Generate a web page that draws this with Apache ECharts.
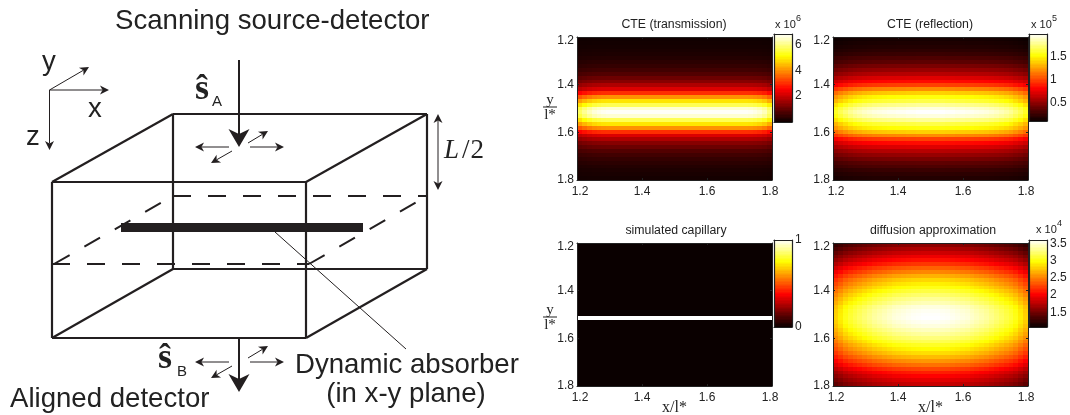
<!DOCTYPE html>
<html><head><meta charset="utf-8">
<style>html,body{margin:0;padding:0;background:#fff}#c{width:1070px;height:415px}</style>
<script src="https://cdn.jsdelivr.net/npm/echarts@6/dist/echarts.min.js"></script>
</head><body><div id="c"></div>
<script>
// ---- values: centre-column value per row, and edge falloff per column
const transRows = [0.08,0.10,0.13,0.17,0.21,0.28,0.37,0.48,0.62,0.82,1.08,1.35,1.75,2.2,3.0,4.0,4.85,5.65,6.5,6.75,6.5,5.65,4.85,4.0,3.0,2.2,1.75,1.35,1.08,0.82,0.62,0.48,0.37,0.28,0.21,0.17,0.13];
const transCols = [.85,.90,.94,.97,.985,.995,1,1,1,1,1,1,1,1,1,1,1,1,1,1,1,1,1,1,1,1,1,1,1,1,1,1,1,1,1,.995,.985,.97,.94,.88];
const reflRows = [0.15,0.17,0.19,0.22,0.26,0.32,0.37,0.45,0.53,0.62,0.73,0.85,1.0,1.21,1.40,1.55,1.66,1.81,1.94,2.0,1.94,1.81,1.66,1.55,1.40,1.21,1.0,0.85,0.73,0.62,0.53,0.45,0.37,0.32,0.26,0.22,0.19];
const reflCols = [.80,.84,.87,.90,.92,.935,.95,.96,.97,.975,.98,.985,.985,.99,.99,.995,.995,1,1,1,1,1,1,.995,.995,.99,.99,.985,.985,.98,.975,.97,.96,.95,.935,.92,.90,.87,.84,.80];
const capRows = [0,0,0,0,0,0,0,0,0,0,0,0,0,0,0,0,0,0,0,1,0,0,0,0,0,0,0,0,0,0,0,0,0,0,0,0,0];
const capCols = [1,1,1,1,1,1,1,1,1,1,1,1,1,1,1,1,1,1,1,1,1,1,1,1,1,1,1,1,1,1,1,1,1,1,1,1,1,1,1,1];
const diffRows = [1.6,1.72,1.84,1.96,2.08,2.22,2.38,2.52,2.68,2.82,2.92,3.02,3.13,3.24,3.34,3.42,3.52,3.57,3.59,3.6,3.57,3.52,3.44,3.36,3.27,3.17,3.06,2.96,2.85,2.72,2.58,2.44,2.28,2.13,2.02,1.92,1.82];
const diffCols = [.78,.81,.84,.86,.875,.89,.905,.92,.935,.945,.955,.965,.975,.98,.985,.99,.995,.997,1,1,1,1,.997,.995,.99,.985,.98,.975,.965,.955,.945,.935,.92,.905,.89,.875,.86,.84,.81,.78];
const tickLabels = [1.2,1.4,1.6,1.8];
const hot = ['#0a0000','#550000','#aa0000','#ff0000','#ff5500','#ffaa00','#ffff00','#ffff80','#ffffff'];
const titles = ['CTE (transmission)','CTE (reflection)','simulated capillary','diffusion approximation'];
const barRanges = [[0,6.8],[0.11,2.0],[0,1],[1.07,3.6]];
const barTicks = [[2,4,6],[0.5,1,1.5],[0,1],[1.5,2,2.5,3,3.5]];
const barExp = ['6','5','','4'];

const INK = '#231f20', SANS = '"Liberation Sans", Arial, sans-serif', SERIF = '"Liberation Serif", serif';
const panels = [
 {rows:transRows, cols:transCols, x:577, y:37, bx:774, by:34, bh:88, tx:674, ty:24, ex:775, ey:25},
 {rows:reflRows,  cols:reflCols,  x:833, y:37, bx:1029,by:34, bh:87, tx:930, ty:24, ex:1031,ey:25},
 {rows:capRows,   cols:capCols,   x:577, y:243,bx:774, by:240,bh:87, tx:676, ty:230},
 {rows:diffRows,  cols:diffCols,  x:833, y:243,bx:1029,by:240,bh:87, tx:933, ty:230, ex:1036,ey:230}
];
const grid=[],xAxis=[],yAxis=[],series=[],visualMap=[],graphic=[];
function renderCell(p,api){
  const c=api.coord([api.value(0),api.value(1)]), s=api.size([api.value(3),api.value(4)]);
  const e=.013;
  const x0=Math.round(c[0]-s[0]/2+e),x1=Math.round(c[0]+s[0]/2+e),y0=Math.round(c[1]-s[1]/2+e),y1=Math.round(c[1]+s[1]/2+e);
  return {type:'rect',shape:{x:x0,y:y0,width:x1-x0,height:y1-y0},style:{fill:api.visual('color')}};
}
const lineS={onZero:false,lineStyle:{color:'#222',width:1}};
const fmtX=v=>{const s=v.toFixed(1);return s==='1.2'?'{a|'+s+'}':s==='1.8'?'{b|'+s+'}':'{c|'+s+'}';};
const fmtY=v=>{const s=v.toFixed(1);return s==='1.2'?'{d|'+s+'}':'{c|'+s+'}';};
const richT={color:'#222',fontFamily:SANS,fontSize:12};
const rich={a:{...richT,padding:[0,0,0,6]},b:{...richT,padding:[0,4,0,0]},c:richT,d:{...richT,padding:[8,0,0,0]}};
panels.forEach((p,k)=>{
  const g=grid.length;
  grid.push({left:p.x,top:p.y,width:195,height:143,outerBoundsMode:'none'});
  const ticks={show:true,inside:true,length:2,lineStyle:{color:'#222'},customValues:tickLabels};
  const lab={color:'#222',fontFamily:SANS,fontSize:12,customValues:tickLabels,rich};
  const ax={type:'value',min:1.2,max:1.8,gridIndex:g,z:5,splitLine:{show:false},axisLine:{show:true,...lineS},axisTick:ticks};
  const xi=xAxis.length, yi=yAxis.length;
  xAxis.push({...ax,position:'bottom',axisLabel:{...lab,margin:6,formatter:fmtX},
     ...(k>=2?{name:'x/l*',nameLocation:'middle',nameGap:14,nameMoveOverlap:false,nameTextStyle:{fontFamily:SERIF,fontSize:16,color:'#222'}}:{})});
  xAxis.push({...ax,position:'top',axisLabel:{show:false}});
  yAxis.push({...ax,inverse:true,position:'left',axisLabel:{...lab,margin:3,formatter:fmtY}});
  yAxis.push({...ax,inverse:true,position:'right',axisLabel:{show:false}});
  const data=[], dx=.6/p.cols.length, dy=.6/p.rows.length;
  p.rows.forEach((r,i)=>p.cols.forEach((c,j)=>data.push([1.2+(j+.5)*dx,1.2+(i+.5)*dy,r*c,dx,dy])));
  const si=series.length;
  series.push({type:'custom',xAxisIndex:xi,yAxisIndex:yi,data,renderItem:renderCell,encode:{x:0,y:1},silent:true,clip:true,animation:false});
  // colour bar
  const g2=grid.length, [lo,hi]=barRanges[k];
  grid.push({left:p.bx,top:p.by,width:18,height:p.bh,outerBoundsMode:'none'});
  const bl={show:true,onZero:false,lineStyle:{color:'#222',width:1.2}};
  const bx={type:'value',gridIndex:g2,min:0,max:1,z:5,splitLine:{show:false},axisTick:{show:false},axisLabel:{show:false},axisLine:bl};
  const by={type:'value',gridIndex:g2,min:lo,max:hi,z:5,splitLine:{show:false},axisTick:{show:false},axisLine:bl};
  const xi2=xAxis.length, yi2=yAxis.length;
  xAxis.push({...bx,position:'bottom'},{...bx,position:'top'});
  yAxis.push({...by,position:'right',axisLabel:{color:'#222',fontFamily:SANS,fontSize:12,margin:3,customValues:barTicks[k],formatter:v=>String(v)}},
             {...by,position:'left',axisLabel:{show:false}});
  const levels=[], n=64, step=(hi-lo)/n;
  for(let i=0;i<n;i++) levels.push([.5,lo+(i+.5)*step,lo+(i+.5)*step,1,step]);
  const si2=series.length;
  series.push({type:'custom',xAxisIndex:xi2,yAxisIndex:yi2,data:levels,renderItem:renderCell,encode:{x:0,y:1},silent:true,animation:false});
  visualMap.push({show:false,type:'continuous',min:lo,max:hi,dimension:2,seriesIndex:[si,si2],inRange:{color:hot}});
  // text
  graphic.push(T(titles[k],p.tx,p.ty+1,12.3,'center'));
  if(barExp[k]){
    graphic.push(T('x 10',p.ex,p.ey,11,'left'));
    graphic.push(T(barExp[k],p.ex+21,p.ey-6,9,'left'));
  }
});
function T(text,x,y,size,align,font,extra){
  return {type:'text',z:20,style:Object.assign({text,x,y,fill:'#222',font:size+'px '+(font||SANS),textAlign:align||'left',textVerticalAlign:'middle'},extra||{})};
}
function L(x1,y1,x2,y2,w,dash){
  return {type:'line',z:10,shape:{x1,y1,x2,y2},style:{stroke:INK,lineWidth:w,lineDash:dash||null}};
}
function A(x1,y1,x2,y2,w,hl,hw){
  const d=Math.hypot(x2-x1,y2-y1),ux=(x2-x1)/d,uy=(y2-y1)/d,nx=-uy,ny=ux;
  const bx=x2-ux*hl,by=y2-uy*hl,nk=hl*.72;
  return [L(x1,y1,x2-ux*nk,y2-uy*nk,w),
   {type:'polygon',z:11,shape:{points:[[x2,y2],[bx+nx*hw,by+ny*hw],[x2-ux*nk,y2-uy*nk],[bx-nx*hw,by-ny*hw]]},style:{fill:INK}}];
}
// y/l* fraction labels
[[107],[317]].forEach(([m])=>{
  graphic.push(T('y',550,m-7,15,'center',SERIF),T('l*',550,m+8,15,'center',SERIF));
  graphic.push({type:'line',z:10,shape:{x1:543,y1:m,x2:557,y2:m},style:{stroke:'#222',lineWidth:1}});
});
// schematic: box, dashed plane, absorber, arrows
const box=[[173,114,427,114],[52,182,306,182],[52,182,173,114],[306,182,427,114],[173,114,173,269],[427,114,427,269],[173,269,427,269],[52,338,306,338],[52,182,52,338],[306,182,306,338],[52,338,173,269],[306,338,427,269]];
box.forEach(b=>graphic.push(L(b[0],b[1],b[2],b[3],2.2)));
const plane=[[173,196,427,196],[52,264,309,264],[54,264,173,196],[309,264,427,196]];
plane.forEach(b=>graphic.push(L(b[0],b[1],b[2],b[3],2,[18,17])));
graphic.push({type:'rect',z:11,shape:{x:121,y:223,width:242,height:9},style:{fill:INK}});
graphic.push(L(275,232,406,349,1));
graphic.push(L(239,60,239,132,2), ...A(239,120,239,147,2,18,10.5), L(239,338,239,378,2), ...A(239,365,239,392,2,18,10.5));
[[147,143,131,151,163],[362,358,346,366,378]].forEach(([h,a,b,c,d])=>{
  graphic.push(...A(229,h,195,h,1,9,4.5),...A(250,h,284,h,1,9,4.5),...A(248,a,268,b,1,9,4.5),...A(232,c,211,d,1,9,4.5));
});
graphic.push(...A(438,150,438,114,1,9,4.5),...A(438,150,438,190,1,9,4.5));
graphic.push(...A(49.5,90,109,90,1,9,4.5),...A(49.5,90,89,67,1,9,4.5),...A(49.5,90,49.5,150,1,9,4.5));
const big=27.6;
graphic.push(T('Scanning source-detector',115,21,big,'left'),
  T('y',49,62,big,'center'),T('x',95,109,big,'center'),T('z',33,137,big,'center'),
  T('ŝ',195,90,36,'left',SERIF,{font:'bold 36px '+SERIF}),T('A',212,102,15,'left'),
  T('ŝ',158,359,36,'left',SERIF,{font:'bold 36px '+SERIF}),T('B',177,372,15,'left'),
  T('Aligned detector',10,399,big,'left'),T('Dynamic absorber',295,365,big,'left'),T('(in x-y plane)',406,394,big,'center'),
  {type:'text',z:20,style:{text:'{i|L}{n|/}{n|2}',x:444,y:151,fill:'#222',font:'27px '+SERIF,textVerticalAlign:'middle',rich:{i:{font:'italic 27px '+SERIF,fill:'#222',padding:[0,3,0,0]},n:{font:'27px '+SERIF,fill:'#222',padding:[0,1,0,0]}}}});

const chart=echarts.init(document.getElementById('c'),null,{renderer:'canvas'});
chart.setOption({animation:false,backgroundColor:'#fff',grid,xAxis,yAxis,series,visualMap,graphic:{elements:graphic},tooltip:{show:false}});
</script></body></html>
